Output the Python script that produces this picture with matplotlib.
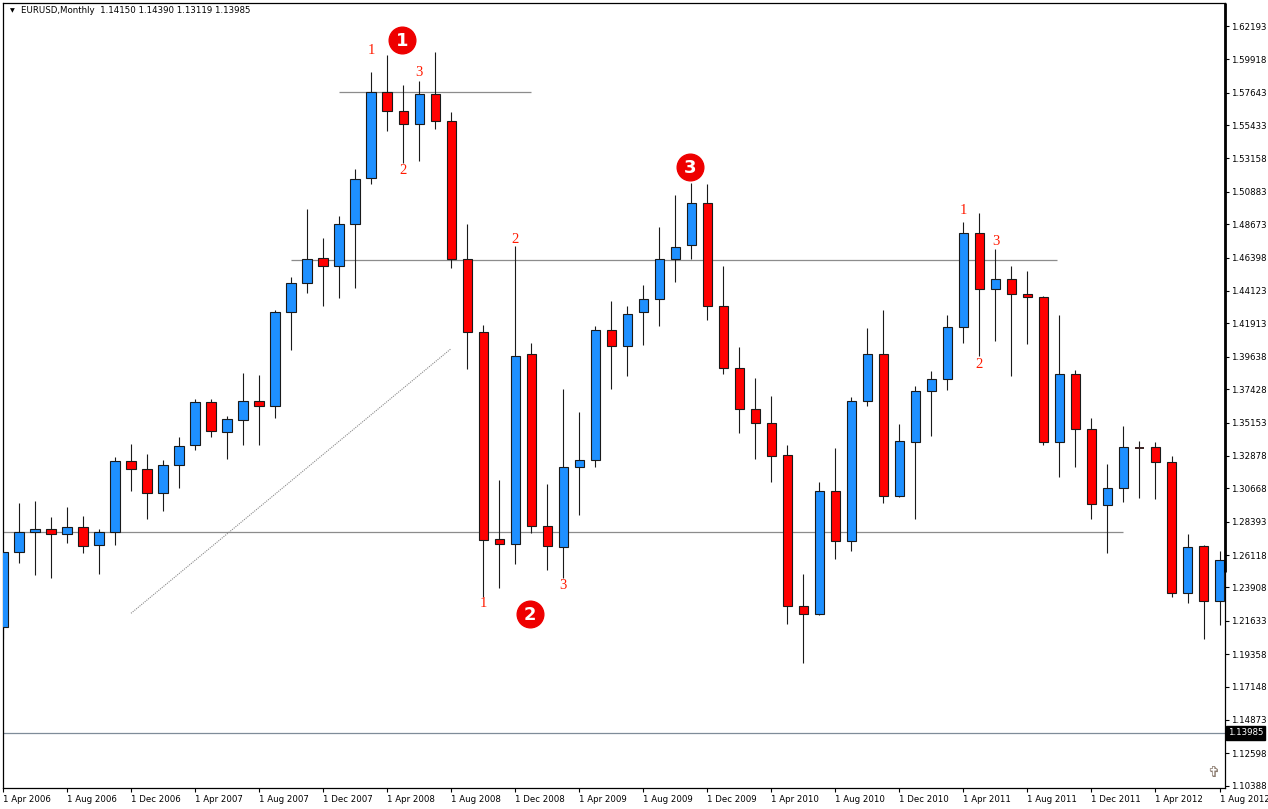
import matplotlib
matplotlib.use('Agg')
import matplotlib.pyplot as plt
from matplotlib.patches import Rectangle
from matplotlib.transforms import blended_transform_factory

# ---------------- data (EURUSD monthly, Apr 2006 .. Aug 2012) ----------------
opens = [1.21189, 1.26304, 1.27667, 1.27872, 1.27531, 1.28049, 1.26781, 1.27667, 1.32509, 1.31963,
         1.30327, 1.32236, 1.33600, 1.36532, 1.34507, 1.35305, 1.36621, 1.36301, 1.42670, 1.44647,
         1.46352, 1.45847, 1.48671, 1.51807, 1.57713, 1.56376, 1.55490, 1.57535, 1.55715, 1.46325,
         1.41306, 1.27190, 1.26849, 1.39805, 1.28076, 1.26645, 1.32100, 1.32577, 1.41442, 1.40351,
         1.42670, 1.43556, 1.46284, 1.47238, 1.50103, 1.43079, 1.38851, 1.36055, 1.35100, 1.32918,
         1.22621, 1.22076, 1.30463, 1.27054, 1.36601, 1.39805, 1.30122, 1.33805, 1.37282, 1.38101,
         1.41647, 1.48057, 1.44238, 1.44920, 1.43897, 1.43693, 1.33846, 1.38442, 1.34691, 1.29509,
         1.30668, 1.33430, 1.33464, 1.32441, 1.23508, 1.26713, 1.22962]
highs = [1.26350, 1.29665, 1.29802, 1.28690, 1.29393, 1.28779, 1.27872, 1.32782, 1.33689, 1.33007,
         1.32598, 1.34166, 1.36760, 1.36757, 1.35619, 1.38551, 1.38394, 1.42826, 1.45077, 1.49714,
         1.47736, 1.49237, 1.52442, 1.59056, 1.60215, 1.58170, 1.58442, 1.60440, 1.56328, 1.48691,
         1.41804, 1.31234, 1.47191, 1.40576, 1.30961, 1.37439, 1.35871, 1.41715, 1.43420, 1.43099,
         1.44531, 1.48486, 1.50669, 1.51487, 1.51419, 1.45827, 1.40303, 1.38189, 1.36962, 1.33621,
         1.24824, 1.31097, 1.33416, 1.36894, 1.41599, 1.42826, 1.35053, 1.37644, 1.38667, 1.42486,
         1.48827, 1.49441, 1.46986, 1.45827, 1.45486, 1.43781, 1.42486, 1.38735, 1.35462, 1.32325,
         1.34916, 1.33893, 1.33825, 1.32870, 1.27551, 1.26781, 1.26392]
lows = [1.20371, 1.25594, 1.24776, 1.24571, 1.26958, 1.26276, 1.24844, 1.26822, 1.30504, 1.28595,
        1.29140, 1.30709, 1.33300, 1.34200, 1.32666, 1.33621, 1.33621, 1.35482, 1.40119, 1.44006,
        1.43120, 1.43665, 1.44347, 1.51419, 1.55053, 1.52817, 1.53007, 1.55190, 1.45711, 1.38824,
        1.23276, 1.23889, 1.25526, 1.27599, 1.25117, 1.24571, 1.28868, 1.32141, 1.37460, 1.38346,
        1.40460, 1.41756, 1.44756, 1.46284, 1.42165, 1.38483, 1.34459, 1.32686, 1.31118, 1.21435,
        1.18775, 1.22028, 1.25867, 1.26413, 1.36301, 1.29686, 1.30100, 1.28595, 1.34255, 1.37392,
        1.40597, 1.39710, 1.40733, 1.38346, 1.40528, 1.33641, 1.31459, 1.32141, 1.28595, 1.26276,
        1.29754, 1.30027, 1.29959, 1.23276, 1.22867, 1.20412, 1.21366]
closes = [1.26304, 1.27667, 1.27872, 1.27531, 1.28049, 1.26713, 1.27667, 1.32509, 1.31963, 1.30327,
          1.32236, 1.33532, 1.36532, 1.34555, 1.35394, 1.36621, 1.36260, 1.42670, 1.44647, 1.46284,
          1.45847, 1.48671, 1.51739, 1.57713, 1.56363, 1.55490, 1.57535, 1.55681, 1.46325, 1.41306,
          1.27163, 1.26849, 1.39669, 1.28076, 1.26713, 1.32100, 1.32577, 1.41442, 1.40351, 1.42533,
          1.43556, 1.46284, 1.47102, 1.50103, 1.43079, 1.38851, 1.36055, 1.35100, 1.32850, 1.22621,
          1.22076, 1.30463, 1.27054, 1.36601, 1.39805, 1.30122, 1.33873, 1.37282, 1.38101, 1.41647,
          1.48057, 1.44238, 1.44920, 1.43897, 1.43693, 1.33846, 1.38442, 1.34691, 1.29577, 1.30668,
          1.33464, 1.33430, 1.32441, 1.23508, 1.26645, 1.22962, 1.25758]

xtick_pos = [0, 4, 8, 12, 16, 20, 24, 28, 32, 36, 40, 44, 48, 52, 56, 60, 64, 68, 72, 76]
xtick_labels = ['1 Apr 2006', '1 Aug 2006', '1 Dec 2006', '1 Apr 2007', '1 Aug 2007', '1 Dec 2007',
                '1 Apr 2008', '1 Aug 2008', '1 Dec 2008', '1 Apr 2009', '1 Aug 2009', '1 Dec 2009',
                '1 Apr 2010', '1 Aug 2010', '1 Dec 2010', '1 Apr 2011', '1 Aug 2011', '1 Dec 2011',
                '1 Apr 2012', '1 Aug 2012']
ytick_vals = [1.62193, 1.59918, 1.57643, 1.55433, 1.53158, 1.50883, 1.48673, 1.46398, 1.44123,
              1.41913, 1.39638, 1.37428, 1.35153, 1.32878, 1.30668, 1.28393, 1.26118, 1.23908,
              1.21633, 1.19358, 1.17148, 1.14873, 1.12598, 1.10388]
bid_price = 1.13985
title_text = 'EURUSD,Monthly  1.14150 1.14390 1.13119 1.13985'

# horizontal levels: (price, start month, end month)
levels = [(1.57726, 21.0, 32.96), (1.46236, 17.98, 65.85), (1.27667, -1.0, 69.95)]
trend = ([7.985, 27.96], [1.22144, 1.40167])
# wave count labels: (text, month, price)
counts = [('1', 23, 1.60509), ('2', 25, 1.52326), ('3', 26, 1.59008),
          ('2', 32, 1.47648), ('1', 30, 1.22826), ('3', 35, 1.24006),
          ('1', 60, 1.49598), ('3', 62, 1.47464), ('2', 61, 1.39096)]
circles = [('1', 24.94, 1.61238), ('2', 32.92, 1.22096), ('3', 42.91, 1.52578)]

BLUE = '#1E90FF'
RED = '#FF0000'
plt.rcParams['font.family'] = ['DejaVu Sans']

fig = plt.figure(figsize=(12.68, 8.09), dpi=100)
ax = fig.add_axes([2.7 / 1268, (809 - 788.3) / 809, 1222 / 1268, 785.6 / 809])
ax.set_xlim(-0.0312, 76.324)
ax.set_ylim(1.10210, 1.63782)

# levels
for p, a, b in levels:
    ax.plot([a, b], [p, p], color='#8c8c8c', lw=0.9, zorder=1, solid_capstyle='butt')
ax.axhline(bid_price, color='#7f8c99', lw=0.9, zorder=1)
ax.plot(trend[0], trend[1], color='#8a8a8a', lw=0.8, ls=(0, (1, 1)), zorder=1)

# candles
w = 0.6
for i, (o, h, l, c) in enumerate(zip(opens, highs, lows, closes)):
    ax.vlines(i, l, h, color='#1a1a1a', lw=0.8, zorder=2)
    col = BLUE if c > o else RED
    if c == o:
        ax.plot([i - w / 2, i + w / 2], [o, o], color='#3a2222', lw=1.4, zorder=3,
                solid_capstyle='butt')
    else:
        ax.add_patch(Rectangle((i - w / 2, min(o, c)), w, abs(c - o), facecolor=col,
                               edgecolor='#1a1a1a', lw=0.8, zorder=3))

# count labels
for t, m, p in counts:
    ax.text(m, p, t, color='#ff1a00', fontsize=10.5, family=['Liberation Serif', 'DejaVu Serif'],
            ha='center', va='center', zorder=5)
for t, m, p in circles:
    ax.plot([m], [p], 'o', ms=19.2, color='#ee0000', mec='#ee0000', zorder=5)
    ax.text(m, p - 0.0005, t, color='white', fontsize=13, fontweight='bold',
            ha='center', va='center', zorder=6)

# axes styling
for s in ax.spines.values():
    s.set_color('black')
    s.set_linewidth(0.9)
ax.yaxis.tick_right()
ax.set_yticks(ytick_vals)
ax.set_yticklabels([f'{v:.5f}' for v in ytick_vals])
ax.set_xticks(xtick_pos)
ax.set_xticklabels(xtick_labels, ha='left')
ax.tick_params(axis='both', direction='out', length=3, width=0.8, labelsize=6.2,
               colors='black', pad=1.5)
ax.tick_params(axis='x', pad=2)

# thick right border part
ax.plot([1.0005, 1.0005], [1.0, (788.3 - 571.7) / 785.6], transform=ax.transAxes,
        color='black', lw=2.0, clip_on=False, zorder=7, solid_capstyle='butt')

# bid price box
tr = blended_transform_factory(ax.transAxes, ax.transData)
ax.text(1.0025, bid_price, f'{bid_price:.5f}', transform=tr, color='white', fontsize=6.2,
        ha='left', va='center',
        bbox=dict(boxstyle='square,pad=0.25', facecolor='black', edgecolor='black'))

# title
ax.text(18.3 / 1222, 1 - (11 - 2.7) / 785.6, title_text, transform=ax.transAxes,
        fontsize=6.2, ha='left', va='center', color='black')
ax.text(9.5 / 1222, 1 - (11 - 2.7) / 785.6, '\u25bc', transform=ax.transAxes,
        fontsize=4.5, ha='center', va='center', color='black')
# small cross icon
ax.text(1210.5 / 1222, 1 - (773 - 2.7) / 785.6, '\u271e', transform=ax.transAxes,
        fontsize=10.5, ha='center', va='center', color='#8a7a6e')

fig.savefig('out.png', dpi=100)
